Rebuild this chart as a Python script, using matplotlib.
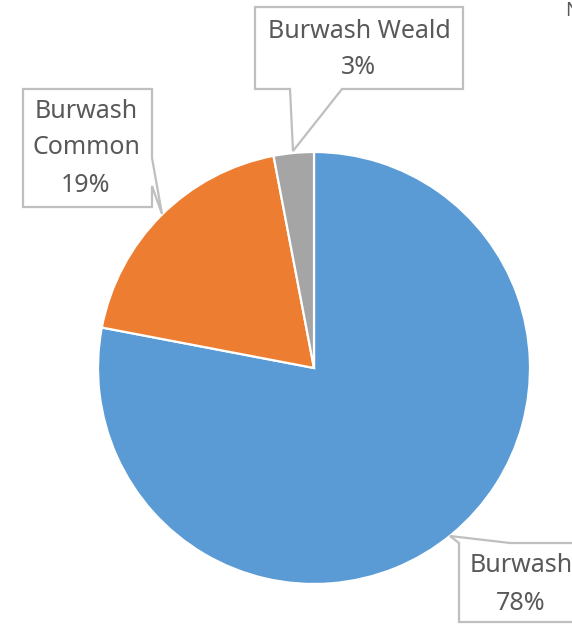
import matplotlib
matplotlib.use("Agg")
import matplotlib.pyplot as plt
from matplotlib.patches import Polygon

# Share of households by area
labels = ["Burwash", "Burwash Common", "Burwash Weald"]
values = [78, 19, 3]
colors = ["#5B9BD5", "#ED7D31", "#A5A5A5"]
label_lines = [["Burwash", "78%"], ["Burwash", "Common", "19%"], ["Burwash Weald", "3%"]]

W, H = 572, 626
fig = plt.figure(figsize=(W / 100, H / 100), dpi=100)
ax = fig.add_axes([0, 0, 1, 1])
ax.set_xlim(0, W)
ax.set_ylim(H, 0)
ax.axis("off")

# Pie drawn on a separate, upright axes placed in pixel terms
cx, cy, r = 314, 368, 216
pax = fig.add_axes([(cx - r) / W, (H - cy - r) / H, 2 * r / W, 2 * r / H])
pax.pie(values, colors=colors, startangle=90, counterclock=False,
        wedgeprops=dict(edgecolor="white", linewidth=1.6))
pax.set_xlim(-1, 1)
pax.set_ylim(-1, 1)
pax.set_aspect("equal")
pax.axis("off")
ax.set_zorder(2)
ax.patch.set_alpha(0)

text_color = "#595959"
box_edge = "#BFBFBF"
font = dict(family=["Noto Sans", "DejaVu Sans"], fontsize=18, color=text_color,
            ha="center", va="center")

# Callout shapes (box plus pointer toward its slice)
callouts = [
    [(459, 622), (459, 543), (450, 536), (510, 543), (600, 543), (600, 622)],
    [(23, 89), (152, 89), (152, 158), (162, 214), (152, 186), (152, 207), (23, 207)],
    [(255, 7), (463, 7), (463, 89), (342, 89), (293, 151), (290, 89), (255, 89)],
]
text_pos = [(521, [566, 603]), (86, [112, 148, 185]), (359, [32, 68])]

for poly, (tx, tys), lines in zip(callouts, text_pos, label_lines):
    ax.add_patch(Polygon(poly, closed=True, facecolor="white", edgecolor=box_edge,
                         linewidth=1.6, zorder=3))
    for ty, line in zip(tys, lines):
        ax.text(tx, ty, line, zorder=4, **font)

# Title text running off the right edge
ax.text(565, 11, "Number", zorder=4, family=["Noto Sans", "DejaVu Sans"],
        fontsize=14, color=text_color, ha="left", va="center")

fig.savefig("out.png", dpi=100)
